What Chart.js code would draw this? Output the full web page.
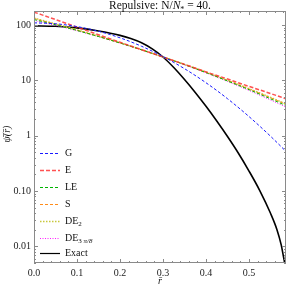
<!DOCTYPE html>
<html><head><meta charset="utf-8">
<script src="https://cdn.jsdelivr.net/npm/chart.js@4"></script>
<style>html,body{margin:0;padding:0;background:#fff}canvas{display:block}</style>
</head><body>
<canvas id="c" width="288" height="290" style="width:288px;height:290px"></canvas>
<script>
// ---- data ----
const rGrid   = [0, 0.05, 0.1, 0.15, 0.2, 0.25, 0.3, 0.35, 0.4, 0.45, 0.5, 0.55, 0.586];
const seriesG   = [110, 105.8, 94.1, 77.4, 58.9, 41.5, 27.0, 16.3, 9.07, 4.67, 2.22, 0.98, 0.52];
const seriesE   = [172, 126, 92, 67, 49, 36, 26.5, 19.5, 14.3, 10.6, 7.8, 5.8, 4.65];
const seriesLE  = [126, 101.5, 80, 62.2, 47.5, 35.8, 26.5, 19.3, 13.85, 9.78, 6.8, 4.65, 3.5];
const seriesS   = [132, 104, 81.4, 62.7, 47.7, 35.8, 26.5, 19.4, 14.0, 9.97, 7.01, 4.87, 3.70];
const seriesDE2 = [134, 105, 82, 63, 48, 36, 26.6, 19.5, 14.1, 10.05, 7.08, 4.93, 3.75];
const seriesDE3 = [121, 99, 78.9, 61.8, 47.4, 35.8, 26.5, 19.2, 13.7, 9.58, 6.58, 4.43, 3.3];
const rExact    = [0, 0.05, 0.1, 0.15, 0.2, 0.225, 0.25, 0.275, 0.3, 0.325, 0.35, 0.375, 0.4, 0.425, 0.45, 0.475, 0.5, 0.525, 0.55, 0.565, 0.575, 0.581, 0.586];
const seriesExact = [97, 95.1, 89.1, 78.5, 65.3, 57.1, 47.9, 37.2, 26.5, 17.1, 10.4, 6.07, 3.41, 1.85, 0.97, 0.488, 0.23, 0.102, 0.0396, 0.02, 0.0105, 0.006, 0.004];
const xTicks = [0, 0.1, 0.2, 0.3, 0.4, 0.5];
const xTickLabels = ['0.0', '0.1', '0.2', '0.3', '0.4', '0.5'];
const yTicks = [0.01, 0.1, 1, 10, 100];
const yTickLabels = ['0.01', '0.10', '1', '10', '100'];
const labels = ['G', 'E', 'LE', 'S', 'DE2', 'DE3', 'Exact'];

const pts = (xs, ys) => xs.map((x, i) => ({x, y: ys[i]}));
const FONT = '"Liberation Serif", "DejaVu Serif", serif';

const styles = [
  {c: '#1a1aff', w: 1, d: [3, 2]},
  {c: 'rgba(255,50,50,0.85)', w: 1.5, d: [4, 2]},
  {c: '#00b400', w: 1, d: [3, 2]},
  {c: '#ff8c1a', w: 1, d: [3, 2]},
  {c: '#c8c83c', w: 1.5, d: [1.5, 1.5]},
  {c: '#ff1aff', w: 1, d: [1, 1.5]},
  {c: '#000000', w: 1.6, d: []}
];
const dataArrays = [seriesG, seriesE, seriesLE, seriesS, seriesDE2, seriesDE3];
const datasets = dataArrays.map((arr, i) => ({
  label: labels[i], data: pts(rGrid, arr),
  borderColor: styles[i].c, borderWidth: styles[i].w, borderDash: styles[i].d
}));
datasets.push({label: labels[6], data: pts(rExact, seriesExact),
  borderColor: styles[6].c, borderWidth: styles[6].w, borderDash: styles[6].d});
datasets.forEach(d => { d.pointRadius = 0; d.fill = false; d.cubicInterpolationMode = 'monotone'; });

function richText(ctx, parts, x, y, align) {
  let total = 0;
  const base = 11.5;
  parts.forEach(p => {
    const s = p.sub ? base * 0.7 : base;
    ctx.font = (p.italic ? 'italic ' : '') + s + 'px ' + FONT;
    p._w = ctx.measureText(p.t).width; p._s = s; total += p._w;
  });
  let cx = align === 'center' ? x - total / 2 : x;
  parts.forEach(p => {
    ctx.font = (p.italic ? 'italic ' : '') + p._s + 'px ' + FONT;
    ctx.fillText(p.t, cx, y + (p.sub ? 2.5 : 0));
    cx += p._w;
  });
}

const decor = {
  id: 'decor',
  afterDraw(chart) {
    const ctx = chart.ctx, a = chart.chartArea;
    const xs = chart.scales.x, ys = chart.scales.y;
    ctx.save();
    // frame
    ctx.strokeStyle = '#8a8a8a'; ctx.lineWidth = 1; ctx.setLineDash([]);
    ctx.strokeRect(a.left + 0.5, a.top + 0.5, a.right - a.left - 1, a.bottom - a.top - 1);
    ctx.beginPath();
    for (let k = 0; k <= 29; k++) {
      const v = k * 0.02;
      if (v > 0.586) break;
      const L = (k % 5 === 0) ? 4 : 2;
      const px = Math.round(xs.getPixelForValue(v)) + 0.5;
      ctx.moveTo(px, a.bottom); ctx.lineTo(px, a.bottom - L);
      ctx.moveTo(px, a.top); ctx.lineTo(px, a.top + L);
    }
    for (let e = -3; e <= 2; e++) {
      for (let m = 1; m <= 9; m++) {
        const v = m * Math.pow(10, e);
        if (v < ys.min || v > ys.max) continue;
        const L = m === 1 ? 4 : 2;
        const py = Math.round(ys.getPixelForValue(v)) + 0.5;
        ctx.moveTo(a.left, py); ctx.lineTo(a.left + L, py);
        ctx.moveTo(a.right, py); ctx.lineTo(a.right - L, py);
      }
    }
    ctx.stroke();
    // title
    ctx.fillStyle = '#111'; ctx.textBaseline = 'alphabetic';
    richText(ctx, [{t: 'Repulsive: N/'}, {t: 'N', italic: true}, {t: '*', sub: true}, {t: ' = 40.'}], (a.left + a.right) / 2, 9, 'center');
    // axis labels
    ctx.font = 'italic 10px ' + FONT; ctx.textAlign = 'center';
    ctx.fillText('r\u0304', (a.left + a.right) / 2, 284);
    ctx.save(); ctx.translate(10, 134); ctx.rotate(-Math.PI / 2);
    ctx.fillText('\u03C8\u0304(r\u0304)', 0, 0);
    ctx.restore();
    // legend
    const rows = [153.5, 170.5, 187.5, 204.5, 221.5, 238.5, 253.5];
    ctx.textAlign = 'left'; ctx.textBaseline = 'middle';
    chart.data.datasets.forEach((ds, i) => {
      const y = rows[i];
      ctx.strokeStyle = ds.borderColor; ctx.lineWidth = ds.label === 'Exact' ? 1.2 : ds.borderWidth;
      ctx.setLineDash(ds.borderDash);
      ctx.beginPath(); ctx.moveTo(40, y); ctx.lineTo(60, y); ctx.stroke();
      ctx.setLineDash([]);
      ctx.fillStyle = '#111';
      ctx.font = '10px ' + FONT;
      if (ds.label === 'DE2') {
        ctx.fillText('DE', 65, y); const w = ctx.measureText('DE').width;
        ctx.font = '7px ' + FONT; ctx.fillText('2', 65 + w, y + 2.5);
      } else if (ds.label === 'DE3') {
        ctx.fillText('DE', 65, y); const w = ctx.measureText('DE').width;
        ctx.font = '7px ' + FONT; ctx.fillText('3', 65 + w, y + 2.5);
        const w2 = ctx.measureText('3 ').width;
        ctx.font = 'italic 7px ' + FONT; ctx.fillText('\u03C0/8', 65 + w + w2, y + 2.5);
      } else {
        ctx.fillText(ds.label, 65, y);
      }
    });
    ctx.restore();
  }
};

new Chart(document.getElementById('c'), {
  type: 'line',
  data: {datasets},
  options: {
    responsive: false, animation: false, devicePixelRatio: 1,
    layout: {padding: {top: 11, right: 2, left: 0, bottom: 0}},
    plugins: {legend: {display: false}, tooltip: {enabled: false}, title: {display: false}},
    scales: {
      x: {
        type: 'linear', min: 0, max: 0.586,
        grid: {display: false, drawTicks: false}, border: {display: false},
        afterBuildTicks: s => { s.ticks = xTicks.map(v => ({value: v})); },
        afterFit: s => { s.height = 27; },
        ticks: {padding: 4, maxRotation: 0, color: '#222', font: {family: FONT, size: 10},
          callback: (v) => { const i = xTicks.findIndex(t => Math.abs(t - v) < 1e-9); return i >= 0 ? xTickLabels[i] : ''; }}
      },
      y: {
        type: 'logarithmic', min: 0.005, max: 180,
        grid: {display: false, drawTicks: false}, border: {display: false},
        afterBuildTicks: s => { s.ticks = yTicks.map(v => ({value: v})); },
        afterFit: s => { s.width = 34; },
        ticks: {padding: 3, color: '#222', font: {family: FONT, size: 10},
          callback: (v) => { const i = yTicks.findIndex(t => Math.abs(t - v) / t < 1e-6); return i >= 0 ? yTickLabels[i] : ''; }}
      }
    }
  },
  plugins: [decor]
});
</script>
</body></html>
